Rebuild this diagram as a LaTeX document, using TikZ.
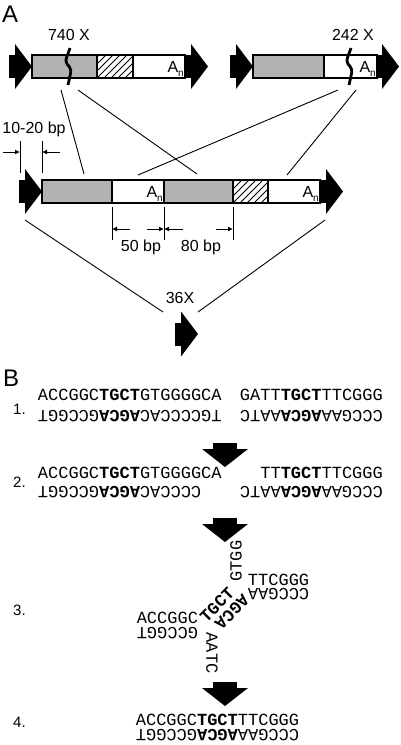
\documentclass[tikz,border=0pt]{standalone}
\usepackage{fontspec}
\setmainfont{Liberation Sans}
\newfontfamily\seqfont{Liberation Mono}
\usetikzlibrary{arrows.meta}
\definecolor{boxgray}{RGB}{178,178,178}
\tikzset{
  seq/.style={font=\seqfont\fontsize{17}{17}\selectfont, inner sep=0pt},
  rseq/.style={seq, rotate=180},
  lbl/.style={font=\fontsize{16}{16}\selectfont, inner sep=0pt},
  big/.style={font=\fontsize{24}{24}\selectfont, inner sep=0pt},
  num/.style={font=\fontsize{15}{15}\selectfont, inner sep=0pt},
  seg/.style={draw=black, line width=1.2pt},
  grayseg/.style={seg, fill=boxgray},
  conn/.style={line width=0.9pt},
  dimline/.style={line width=0.9pt},
  dimarrow/.style={line width=0.9pt, -{Latex[length=5pt,width=5pt]}},
  brk/.style={line width=2.8pt},
  garrow/.pic={
    \fill (-23,-11.5) rectangle (-17,11.5);
    \fill (-17,-22.5) -- (0,0) -- (-17,22.5) -- cycle;
  },
  darrow/.pic={
    \fill (-12,-24) rectangle (12,-18);
    \fill (-23,-18) -- (23,-18) -- (0,0) -- cycle;
  },
  squiggle/.pic={
    \draw[brk] (0,-18.5) .. controls (-2,-11.5) and (-6,-6.5) .. (-3,-2.5)
      .. controls (0,0.5) and (2,3.5) .. (0,9.5) -- (-2,18.5);
  },
}
\newcommand{\An}{A\raisebox{-4pt}{\fontsize{10}{10}\selectfont n}}
\begin{document}
\begin{tikzpicture}[x=1pt,y=-1pt]
\useasboundingbox (0,0) rectangle (400,745);

% ---------------- Part A ----------------
\node[big, anchor=base west] (labA) at (2,22) {A};

% top-left element (740 X)
\pic at (32,66.5) {garrow};
\draw[grayseg] (32,55) rectangle (97,78);
\begin{scope}
  \clip (97,55) rectangle (133,78);
  \foreach \i in {-28,-21,...,42} \draw[line width=0.9pt] (97+\i,78) -- ++(26,-26);
\end{scope}
\draw[seg] (97,55) rectangle (133,78);
\draw[seg] (133,55) rectangle (185,78);
\pic at (208,66.5) {garrow};
\node[lbl, anchor=base east] (an1) at (184,72) {\An};
\pic at (70,66.5) {squiggle};
\node[lbl, anchor=base] (lab740) at (69,40) {740 X};

% top-right element (242 X)
\pic at (253,66.5) {garrow};
\draw[grayseg] (253,55) rectangle (324,78);
\draw[seg] (324,55) rectangle (377,78);
\pic at (399,66.5) {garrow};
\node[lbl, anchor=base east] (an2) at (376,72) {\An};
\pic at (351,66.5) {squiggle};
\node[lbl, anchor=base] (lab242) at (353,40) {242 X};

% middle element
\pic at (42,191.5) {garrow};
\draw[grayseg] (42,180) rectangle (112,203);
\draw[seg] (112,180) rectangle (164,203);
\draw[grayseg] (164,180) rectangle (233,203);
\begin{scope}
  \clip (233,180) rectangle (268,203);
  \foreach \i in {-28,-21,...,42} \draw[line width=0.9pt] (233+\i,203) -- ++(26,-26);
\end{scope}
\draw[seg] (233,180) rectangle (268,203);
\draw[seg] (268,180) rectangle (320,203);
\pic at (343,191.5) {garrow};
\node[lbl, anchor=base east] (an3) at (163,197) {\An};
\node[lbl, anchor=base east] (an4) at (319,197) {\An};

% connectors top -> middle
\coordinate (b1) at (61,90);   \coordinate (m1) at (84,174);
\coordinate (b2) at (78,90);   \coordinate (m2) at (197,174);
\coordinate (b3) at (338,90);  \coordinate (m3) at (138,175);
\coordinate (b4) at (356,90);  \coordinate (m4) at (287,175);
\draw[conn] (b1) -- (m1);
\draw[conn] (b2) -- (m2);
\draw[conn] (b3) -- (m3);
\draw[conn] (b4) -- (m4);

% 10-20 bp
\node[lbl, anchor=base] (lab1020) at (34,133) {10-20 bp};
\draw[dimline] (20,141) -- (20,173);
\draw[dimline] (42,141) -- (42,173);
\draw[dimarrow] (3,152) -- (20,152);
\draw[dimarrow] (60,152) -- (42,152);

% 50 bp / 80 bp
\draw[dimline] (112,207) -- (112,240);
\draw[dimline] (164,207) -- (164,240);
\draw[dimline] (233,207) -- (233,240);
\draw[dimarrow] (130,229) -- (112,229);
\draw[dimarrow] (147,229) -- (164,229);
\draw[dimarrow] (183,229) -- (164,229);
\draw[dimarrow] (216,229) -- (233,229);
\node[lbl, anchor=base] (lab50) at (141,251) {50 bp};
\node[lbl, anchor=base] (lab80) at (201,251) {80 bp};

% connectors middle -> 36X
\coordinate (c1) at (25,220);  \coordinate (d1) at (163,312);
\coordinate (c2) at (325,220); \coordinate (d2) at (198,312);
\draw[conn] (c1) -- (d1);
\draw[conn] (c2) -- (d2);
\node[lbl, anchor=base] (lab36) at (180,303) {36X};
\pic at (198,334) {garrow};

% ---------------- Part B ----------------
\node[big, anchor=base west] (labB) at (3,386) {B};

% row 1
\node[num, anchor=base west] (n1) at (13,414) {1.};
\node[seq] (r1lt) at (129.8,394.5) {ACCGGC\textbf{TGCT}GTGGGGCA};
\node[rseq] (r1lb) at (129.8,416.5) {TGCCCCAC\textbf{AGCA}GCCGGT};
\node[seq] (r1rt) at (311.4,394.5) {GATT\textbf{TGCT}TTCGGG};
\node[rseq] (r1rb) at (311.4,416.5) {CCCGAA\textbf{AGCA}AATC};

\pic at (225,467) {darrow};

% row 2
\node[num, anchor=base west] (n2) at (13,487) {2.};
\node[seq] (r2lt) at (129.8,472.5) {ACCGGC\textbf{TGCT}GTGGGGCA};
\node[rseq] (r2lb) at (119.6,492.5) {CCCCAC\textbf{AGCA}GCCGGT};
\node[seq] (r2rt) at (321.6,472.5) {TT\textbf{TGCT}TTCGGG};
\node[rseq] (r2rb) at (311.4,492.5) {CCCGAA\textbf{AGCA}AATC};

\pic at (225,542) {darrow};

% row 3 (junction)
\node[num, anchor=base west] (n3) at (13,615) {3.};
\node[seq] (r3lt) at (167.4,618) {ACCGGC};
\node[rseq] (r3lb) at (167.4,633) {GCCGGT};
\node[seq] (r3rt) at (278.6,580) {TTCGGG};
\node[rseq] (r3rb) at (278.6,594) {CCCGAA};
\node[seq, rotate=90] (r3up) at (236,561) {GTGG};
\node[seq, rotate=-90] (r3dn) at (212,653) {AATC};
\node[seq, rotate=45] (r3d1) at (217,605) {\textbf{TGCT}};
\node[seq, rotate=225] (r3d2) at (232,612) {\textbf{AGCA}};

\pic at (225,706) {darrow};

% row 4
\node[num, anchor=base west] (n4) at (13,727) {4.};
\node[seq] (r4t) at (217.5,720) {ACCGGC\textbf{TGCT}TTCGGG};
\node[rseq] (r4b) at (217.5,735) {CCCGAA\textbf{AGCA}GCCGGT};
\end{tikzpicture}
\end{document}
